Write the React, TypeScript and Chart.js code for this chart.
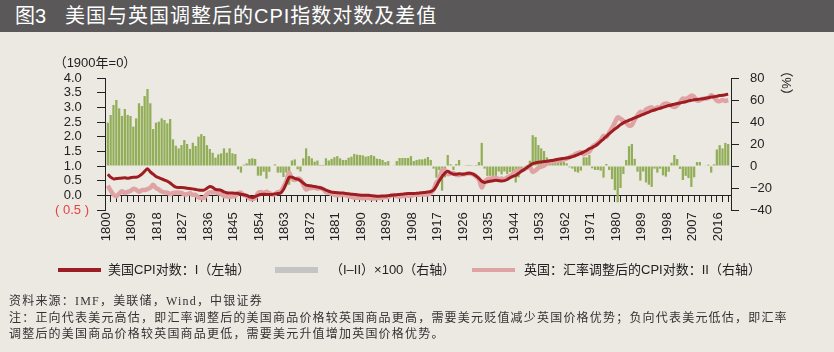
import React, { useEffect, useRef } from "react";
import { Chart, registerables } from "chart.js";

Chart.register(...registerables);

// ---------- data (years 1800–2019) ----------
const START_YEAR = 1800;

// US CPI log (1900 = 0), left axis
const usLog = [
  0.72, 0.62, 0.56, 0.57, 0.58, 0.59, 0.6, 0.58, 0.6, 0.62,
  0.62, 0.65, 0.72, 0.82, 0.91, 0.8, 0.72, 0.64, 0.6, 0.56,
  0.52, 0.48, 0.42, 0.34, 0.28, 0.27, 0.27, 0.26, 0.24, 0.23,
  0.22, 0.2, 0.18, 0.17, 0.18, 0.24, 0.3, 0.27, 0.2, 0.19,
  0.17, 0.12, 0.09, 0.08, 0.08, 0.07, 0.06, 0.04, 0.02, 0.0,
  -0.05, -0.08, -0.04, 0.0, 0.03, 0.04, 0.03, 0.03, 0.03, 0.05,
  0.06, 0.08, 0.2, 0.4, 0.62, 0.62, 0.58, 0.55, 0.5, 0.42,
  0.35, 0.33, 0.32, 0.3, 0.28, 0.26, 0.22, 0.18, 0.14, 0.11,
  0.1, 0.09, 0.08, 0.08, 0.06, 0.05, 0.04, 0.03, 0.02, 0.01,
  0.0, 0.0, 0.0, -0.01, -0.02, -0.03, -0.03, -0.02, -0.02, -0.01,
  0.0, 0.01, 0.02, 0.03, 0.04, 0.05, 0.06, 0.06, 0.06, 0.07,
  0.08, 0.09, 0.1, 0.11, 0.13, 0.18, 0.32, 0.5, 0.64, 0.76,
  0.82, 0.76, 0.72, 0.72, 0.74, 0.72, 0.73, 0.75, 0.75, 0.72,
  0.66, 0.58, 0.48, 0.44, 0.46, 0.48, 0.5, 0.51, 0.5, 0.49,
  0.5, 0.54, 0.6, 0.65, 0.68, 0.75, 0.82, 0.88, 0.95, 1.02,
  1.08, 1.11, 1.13, 1.14, 1.15, 1.16, 1.18, 1.19, 1.21, 1.23,
  1.25, 1.26, 1.27, 1.29, 1.32, 1.35, 1.39, 1.43, 1.48, 1.53,
  1.59, 1.63, 1.68, 1.75, 1.84, 1.92, 2.01, 2.1, 2.18, 2.26,
  2.33, 2.41, 2.47, 2.52, 2.56, 2.6, 2.64, 2.68, 2.72, 2.76,
  2.8, 2.84, 2.88, 2.91, 2.94, 2.97, 3.0, 3.03, 3.06, 3.08,
  3.11, 3.13, 3.15, 3.17, 3.19, 3.22, 3.24, 3.26, 3.27, 3.28,
  3.29, 3.31, 3.33, 3.35, 3.36, 3.38, 3.4, 3.41, 3.43, 3.45,
];

// UK exchange-rate adjusted CPI log
const ukLog = [
  0.33, 0.16, 0.02, -0.03, 0.06, 0.14, 0.08, 0.12, 0.15, 0.22,
  0.19, 0.12, 0.18, 0.18, 0.21, 0.26, 0.36, 0.25, 0.2, 0.13,
  0.1, 0.09, 0.04, 0.08, 0.09, 0.1, 0.08, 0.03, 0.04, 0.07,
  0.02, 0.02, -0.07, -0.1, -0.08, 0.04, 0.1, 0.1, 0.1, 0.07,
  0.05, -0.03, -0.03, -0.06, -0.03, -0.03, 0.07, 0.09, 0.01, -0.02,
  -0.1, -0.13, -0.09, 0.08, 0.11, 0.09, 0.12, 0.08, 0.03, 0.04,
  0.11, 0.13, 0.28, 0.48, 0.77, 0.57, 0.52, 0.57, 0.54, 0.36,
  0.2, 0.24, 0.25, 0.26, 0.23, 0.25, 0.21, 0.11, 0.09, 0.05,
  0.02, 0.0, 0.01, 0.03, 0.0, -0.03, -0.05, -0.08, -0.08, -0.09,
  -0.1, -0.09, -0.09, -0.11, -0.11, -0.1, -0.09, -0.08, -0.06, -0.06,
  0.0, 0.01, -0.03, -0.04, -0.03, -0.02, -0.01, -0.03, 0.02, 0.02,
  0.02, 0.03, 0.03, 0.03, 0.08, 0.2, 0.43, 0.54, 0.86, 0.86,
  0.72, 0.74, 0.76, 0.7, 0.69, 0.72, 0.72, 0.74, 0.74, 0.71,
  0.65, 0.54, 0.27, 0.46, 0.55, 0.57, 0.59, 0.6, 0.55, 0.57,
  0.55, 0.61, 0.66, 0.72, 0.83, 0.85, 0.86, 0.89, 0.94, 0.97,
  0.8, 0.85, 0.94, 0.98, 1.01, 1.08, 1.13, 1.15, 1.17, 1.18,
  1.21, 1.22, 1.25, 1.3, 1.34, 1.4, 1.45, 1.47, 1.4, 1.45,
  1.49, 1.65, 1.72, 1.79, 1.88, 2.03, 1.99, 2.14, 2.3, 2.48,
  2.66, 2.61, 2.54, 2.47, 2.38, 2.4, 2.58, 2.73, 2.85, 2.81,
  2.93, 2.97, 3.0, 2.93, 3.0, 2.99, 3.09, 3.13, 3.11, 3.05,
  3.01, 3.07, 3.18, 3.3, 3.28, 3.33, 3.4, 3.36, 3.23, 3.24,
  3.29, 3.3, 3.32, 3.41, 3.35, 3.23, 3.21, 3.25, 3.22, 3.25,
];

// (I - II) x 100, right axis
const diffPct = [
  39.4, 46.4, 55.5, 60, 52.4, 45.5, 51.8, 46.4, 45.5, 35.8,
  43.3, 57, 54.5, 63.6, 70, 57, 33.6, 39.4, 40.3, 43.3,
  41.8, 38.8, 42.7, 24.2, 18.5, 16, 19, 23.6, 20, 15.5,
  21.2, 18.2, 26.7, 29, 27.3, 19, 15.5, 12, 7.6, 10.6,
  11.5, 16, 12.1, 16.1, 11.5, 10.9, -3, -6, 1.2, 2.4,
  6.4, 7, 6.4, -8.8, -8.8, -5.2, -11.5, -5.2, 0, 1.5,
  -6, -6, -10, -6, -17, 5, 6, -3, -5, 7,
  16, 9, 7, 4, 5, 1, 1, 7, 5, 6.5,
  8, 9, 7, 5.5, 5.5, 7.5, 8.5, 11, 10.3, 10,
  9.7, 8.5, 9, 10, 9, 6.7, 6.4, 5.5, 3.6, 4.5,
  0, 0.3, 4.5, 7.3, 7.3, 7.3, 7.3, 9, 4.5, 5.5,
  6, 6, 6.7, 8.2, 5.5, -2.4, -10.6, -3.6, -22.4, -10.3,
  10, 1.5, -3.6, 1.8, 5.5, -0.5, 0.6, 0.9, 0.9, 0.6,
  0.9, 3.6, 21, -2.4, -9, -9, -9, -9, -5, -7.6,
  -5, -7.3, -5.5, -6.7, -15, -10.3, -3.6, -0.6, 1, 4.8,
  28, 26.4, 19, 16, 13.6, 7.9, 5.5, 3.6, 3.6, 4.8,
  3.6, 3.6, 2.4, -1.2, -2.4, -5.2, -6, -4.2, 7.9, 7.9,
  10, -2.1, -3.6, -3.6, -4.2, -10.6, 1.8, -3.6, -12, -22,
  -33, -20, -7.3, 5.5, 18, 20, 6.5, -5.2, -13.3, -5,
  -15, -17, -19, -2.4, -6, -2.4, -8.5, -9.7, -5.2, 3,
  10, 6.4, -2.7, -12.7, -9, -11, -19, -10.3, 3.6, 3.6,
  0, 0.6, 1.2, -6, 1.5, 15, 19, 16, 21, 20,
];

const years = usLog.map((_, i) => START_YEAR + i);

const xTickLabels = [
  "1800", "1809", "1818", "1827", "1836", "1845", "1854", "1863", "1872",
  "1881", "1890", "1899", "1908", "1917", "1926", "1935", "1944", "1953",
  "1962", "1971", "1980", "1989", "1998", "2007", "2016",
];
const leftTickLabels = ["( 0.5 )", "0.0", "0.5", "1.0", "1.5", "2.0", "2.5", "3.0", "3.5", "4.0"];
const rightTickLabels = ["\u221240", "\u221220", "0", "20", "40", "60", "80"];

const TITLE_NO = "图3";
const TITLE = "美国与英国调整后的CPI指数对数及差值";
const LEFT_AXIS_TITLE = "（1900年=0）";
const RIGHT_AXIS_TITLE = "（%）";
const LEGEND_US = "美国CPI对数：I（左轴）";
const LEGEND_DIFF = "（I–II）×100（右轴）";
const LEGEND_UK = "英国：汇率调整后的CPI对数：II（右轴）";
const NOTE_LINES = [
  "资料来源：IMF，美联储，Wind，中银证券",
  "注：正向代表美元高估，即汇率调整后的美国商品价格较英国商品更高，需要美元贬值减少英国价格优势；负向代表美元低估，即汇率",
  "调整后的美国商品价格较英国商品更低，需要美元升值增加英国价格优势。",
];

const US_COLOR = "#9E1D22";
const UK_COLOR = "#E0A3A3";
const BAR_COLOR = "#92AE58";
const LEGEND_BAR_COLOR = "#C4C4C4";
const AXIS_COLOR = "#222222";
const NEG_COLOR = "#E8413C";
const BG = "#ECE9E3";

const FONT = '"Liberation Sans", Arial, "Noto Sans CJK SC", sans-serif';

const axisTitles = {
  id: "axisTitles",
  afterDraw(chart: any) {
    const { ctx, chartArea, scales } = chart;
    ctx.save();
    ctx.fillStyle = AXIS_COLOR;
    ctx.font = '13px "Liberation Sans", "Noto Sans CJK SC", sans-serif';
    ctx.textAlign = "center";
    ctx.textBaseline = "middle";
    ctx.fillText(LEFT_AXIS_TITLE, chartArea.left - 10, chartArea.top - 15);
    ctx.translate(scales.y1.right - 48, chartArea.top + 5);
    ctx.rotate(Math.PI / 2);
    ctx.fillText(RIGHT_AXIS_TITLE, 0, 0);
    ctx.restore();
  },
};

export default function App() {
  const ref = useRef<HTMLCanvasElement>(null);

  useEffect(() => {
    Chart.defaults.font.family = FONT;
    Chart.defaults.font.size = 13;
    Chart.defaults.color = AXIS_COLOR;
    const chart = new Chart(ref.current as HTMLCanvasElement, {
      type: "bar",
      data: {
        datasets: [
          {
            type: "line",
            label: LEGEND_US,
            data: years.map((y, i) => ({ x: y + 0.5, y: usLog[i] })),
            yAxisID: "y",
            borderColor: US_COLOR,
            borderWidth: 3,
            pointRadius: 0,
            tension: 0.3,
            order: 0,
          },
          {
            type: "line",
            label: LEGEND_UK,
            data: years.map((y, i) => ({ x: y + 0.5, y: ukLog[i] })),
            yAxisID: "y",
            borderColor: UK_COLOR,
            borderWidth: 4.5,
            pointRadius: 0,
            tension: 0.3,
            order: 1,
          },
          {
            type: "bar",
            label: LEGEND_DIFF,
            data: years.map((y, i) => ({ x: y + 0.5, y: diffPct[i] })),
            yAxisID: "y1",
            backgroundColor: BAR_COLOR,
            barPercentage: 0.8,
            categoryPercentage: 1,
            order: 2,
          },
        ],
      } as any,
      options: {
        animation: false,
        responsive: false,
        maintainAspectRatio: false,
        layout: { padding: { top: 78, bottom: 142, left: 0, right: 0 } },
        plugins: { legend: { display: false }, tooltip: { enabled: false } },
        scales: {
          x: {
            type: "linear",
            min: 1800,
            max: 2020,
            position: { y: 0 } as any,
            ticks: {
              stepSize: 1,
              autoSkip: false,
              maxTicksLimit: 1000,
              maxRotation: 90,
              minRotation: 90,
              padding: 11,
              color: AXIS_COLOR,
              font: { size: 13 },
              callback: (v: any) => (xTickLabels.includes(String(v)) ? String(v) : ""),
            },
            grid: {
              drawOnChartArea: false,
              tickLength: 6,
              tickWidth: 1,
              tickColor: (c: any) => (((c.index ?? 0) % 2 === 0) ? AXIS_COLOR : "rgba(0,0,0,0)"),
            },
            border: { color: AXIS_COLOR, width: 1 },
          },
          y: {
            position: "left",
            min: -0.5,
            max: 4,
            ticks: {
              stepSize: 0.5,
              autoSkip: false,
              padding: 8,
              font: { size: 13 },
              color: (c: any) => (c.tick && c.tick.value < 0 ? NEG_COLOR : AXIS_COLOR),
              callback: (_v: any, i: number) => leftTickLabels[i] + (i > 0 ? "  " : ""),
            },
            grid: { drawOnChartArea: false, tickLength: 8, tickColor: AXIS_COLOR },
            border: { color: AXIS_COLOR, width: 1 },
            afterFit: (s: any) => {
              s.width = 105;
            },
          },
          y1: {
            position: "right",
            min: -40,
            max: 80,
            ticks: {
              stepSize: 20,
              autoSkip: false,
              padding: 11,
              font: { size: 13 },
              color: AXIS_COLOR,
              callback: (_v: any, i: number) => rightTickLabels[i],
            },
            grid: { drawOnChartArea: false, tickLength: 8, tickColor: AXIS_COLOR },
            border: { color: AXIS_COLOR, width: 1 },
            afterFit: (s: any) => {
              s.width = 103;
            },
          },
        },
      } as any,
      plugins: [axisTitles],
    });
    return () => chart.destroy();
  }, []);

  const legendText: React.CSSProperties = {
    position: "absolute",
    top: 261,
    height: 18,
    lineHeight: "18px",
    fontSize: 13,
    color: AXIS_COLOR,
    fontFamily: FONT,
    whiteSpace: "nowrap",
  };
  const noteStyle: React.CSSProperties = {
    position: "absolute",
    left: 9,
    height: 16,
    lineHeight: "16px",
    fontSize: 12,
    letterSpacing: "1.2px",
    color: "#333",
    fontFamily: '"Liberation Serif", "Noto Sans CJK SC", serif',
    whiteSpace: "nowrap",
  };

  return (
    <div
      style={{
        position: "absolute",
        left: 0,
        top: 0,
        width: 834,
        height: 352,
        background: BG,
        overflow: "hidden",
      }}
    >
      <div
        style={{
          position: "absolute",
          left: 0,
          top: 0,
          width: 834,
          height: 32,
          background: "#5A5859",
          color: "#fff",
          fontFamily: FONT,
          fontSize: 20,
          lineHeight: "32px",
          whiteSpace: "nowrap",
        }}
      >
        <span style={{ position: "absolute", left: 15 }}>{TITLE_NO}</span>
        <span style={{ position: "absolute", left: 65, letterSpacing: "1px" }}>{TITLE}</span>
      </div>
      <canvas
        ref={ref}
        width={834}
        height={352}
        style={{ position: "absolute", left: 0, top: 0, width: 834, height: 352 }}
      />
      <div style={{ position: "absolute", left: 58, top: 268, width: 43, height: 4, background: US_COLOR }} />
      <div style={{ ...legendText, left: 108 }}>{LEGEND_US}</div>
      <div style={{ position: "absolute", left: 275, top: 267, width: 43, height: 6, background: LEGEND_BAR_COLOR }} />
      <div style={{ ...legendText, left: 330 }}>{LEGEND_DIFF}</div>
      <div style={{ position: "absolute", left: 472, top: 268, width: 43, height: 4, background: UK_COLOR }} />
      <div style={{ ...legendText, left: 524 }}>{LEGEND_UK}</div>
      {NOTE_LINES.map((t, i) => (
        <div key={i} style={{ ...noteStyle, top: [293, 310, 326][i] }}>
          {t}
        </div>
      ))}
    </div>
  );
}
